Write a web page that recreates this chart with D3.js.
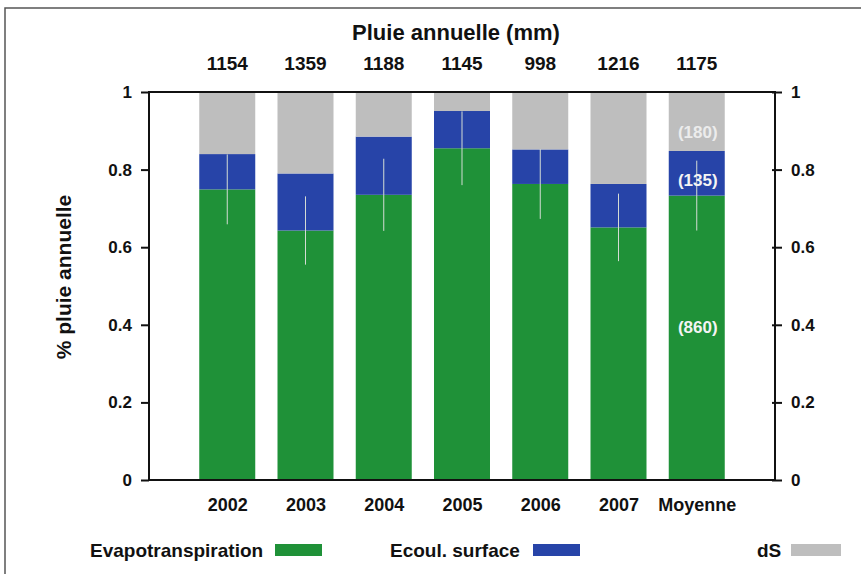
<!DOCTYPE html>
<html>
<head>
<meta charset="utf-8">
<script src="https://cdn.jsdelivr.net/npm/d3@7"></script>
<style>
  body { margin: 0; background: #fff; }
  svg text { font-family: "Liberation Sans", Arial, sans-serif; font-weight: bold; fill: #111; }
</style>
</head>
<body>
<div id="chart"></div>
<script>
const years = [`2002`, `2003`, `2004`, `2005`, `2006`, `2007`, `Moyenne`];
const rain = [1154, 1359, 1188, 1145, 998, 1216, 1175];
const evapo = [0.749, 0.643, 0.735, 0.855, 0.763, 0.651, 0.733];
const ecoul = [0.091, 0.147, 0.150, 0.096, 0.089, 0.112, 0.115];
const dS = [0.160, 0.210, 0.115, 0.049, 0.148, 0.237, 0.152];
const errs = [0.09, 0.088, 0.093, 0.095, 0.09, 0.087, 0.09];
const yTicks = [0, 0.2, 0.4, 0.6, 0.8, 1];
const meanLabels = [`(860)`, `(135)`, `(180)`];
const seriesNames = [`Evapotranspiration`, `Ecoul. surface`, `dS`];
const colors = [`#1f9138`, `#2744a8`, `#bebebe`];

const W = 861, H = 574;
const plot = { left: 149, right: 775, top: 92, bottom: 480 };

const svg = d3.select(`#chart`).append(`svg`)
  .attr(`width`, W).attr(`height`, H);

// cadre
svg.append(`rect`)
  .attr(`x`, 5).attr(`y`, 8).attr(`width`, 900).attr(`height`, 600)
  .attr(`fill`, `none`).attr(`stroke`, `#555`).attr(`stroke-width`, 1.5);

const x = d3.scalePoint().domain(years).range([plot.left, plot.right]).padding(1);
const y = d3.scaleLinear().domain([0, 1]).range([plot.bottom, plot.top]);
const bw = 56;

const table = years.map((yr, i) => ({ year: yr, e: evapo[i], s: ecoul[i], d: dS[i] }));
const stack = d3.stack().keys([`e`, `s`, `d`])(table);

svg.append(`g`).selectAll(`g`)
  .data(stack)
  .enter().append(`g`)
    .attr(`fill`, (d, i) => colors[i])
  .selectAll(`rect`)
  .data(d => d)
  .enter().append(`rect`)
    .attr(`x`, d => x(d.data.year) - bw / 2)
    .attr(`width`, bw)
    .attr(`y`, d => y(Math.min(d[1], 1)))
    .attr(`height`, d => y(d[0]) - y(Math.min(d[1], 1)));

// barres d'erreur
svg.append(`g`).selectAll(`line`)
  .data(years)
  .enter().append(`line`)
    .attr(`x1`, d => x(d)).attr(`x2`, d => x(d))
    .attr(`y1`, (d, i) => y(evapo[i] + errs[i]))
    .attr(`y2`, (d, i) => y(evapo[i] - errs[i]))
    .attr(`stroke`, `#d4dcd4`).attr(`stroke-width`, 1);

// valeurs moyennes (mm)
const last = years.length - 1;
const mids = [
  y(evapo[last] / 2) - 11,
  y(evapo[last] + ecoul[last] / 2) + 7,
  y(evapo[last] + ecoul[last] + dS[last] / 2) + 11
];
svg.append(`g`).selectAll(`text`)
  .data(meanLabels)
  .enter().append(`text`)
    .attr(`x`, x(years[last]) + 1)
    .attr(`y`, (d, i) => mids[i])
    .attr(`dy`, `0.35em`)
    .attr(`text-anchor`, `middle`)
    .style(`font-size`, `17px`)
    .style(`fill`, (d, i) => i === 2 ? `#ececec` : `#f4f4f4`)
    .text(d => d);

// cadre du graphique
svg.append(`rect`)
  .attr(`x`, plot.left).attr(`y`, plot.top)
  .attr(`width`, plot.right - plot.left).attr(`height`, plot.bottom - plot.top)
  .attr(`fill`, `none`).attr(`stroke`, `#111`).attr(`stroke-width`, 2);

// axes
const yl = svg.append(`g`)
  .attr(`transform`, `translate(${plot.left},0)`)
  .call(d3.axisLeft(y).tickValues(yTicks).tickFormat(d3.format(`~g`)).tickSize(8).tickPadding(9));
const yr = svg.append(`g`)
  .attr(`transform`, `translate(${plot.right},0)`)
  .call(d3.axisRight(y).tickValues(yTicks).tickFormat(d3.format(`~g`)).tickSize(7).tickPadding(9));
[yl, yr].forEach(g => {
  g.select(`.domain`).remove();
  g.selectAll(`line`).attr(`stroke`, `#111`).attr(`stroke-width`, 2);
  g.selectAll(`text`).style(`font-size`, `17px`).attr(`fill`, `#111`);
});
yr.selectAll(`line`).attr(`x1`, -3);

const xa = svg.append(`g`)
  .attr(`transform`, `translate(0,${plot.bottom})`)
  .call(d3.axisBottom(x).tickSize(0).tickPadding(18));
xa.select(`.domain`).remove();
xa.selectAll(`text`).style(`font-size`, `18px`).attr(`fill`, `#111`);

// pluie annuelle
svg.append(`text`)
  .attr(`x`, 456).attr(`y`, 40)
  .attr(`text-anchor`, `middle`)
  .style(`font-size`, `22px`)
  .text(`Pluie annuelle (mm)`);
svg.append(`g`).selectAll(`text`)
  .data(rain)
  .enter().append(`text`)
    .attr(`x`, (d, i) => x(years[i]))
    .attr(`y`, 70)
    .attr(`text-anchor`, `middle`)
    .style(`font-size`, `19px`)
    .text(d => d);

svg.append(`text`)
  .attr(`transform`, `translate(71,277) rotate(-90)`)
  .attr(`text-anchor`, `middle`)
  .style(`font-size`, `21px`)
  .text(`% pluie annuelle`);

// légende
const legX = [[90, 275], [390, 533], [757, 791]];
const leg = svg.append(`g`).selectAll(`g`)
  .data(seriesNames)
  .enter().append(`g`);
leg.append(`text`)
  .attr(`x`, (d, i) => legX[i][0]).attr(`y`, 557)
  .style(`font-size`, `19px`)
  .text(d => d);
leg.append(`rect`)
  .attr(`x`, (d, i) => legX[i][1]).attr(`y`, 544)
  .attr(`width`, (d, i) => i === 2 ? 50 : 47).attr(`height`, 12)
  .attr(`fill`, (d, i) => colors[i]);
</script>
</body>
</html>
